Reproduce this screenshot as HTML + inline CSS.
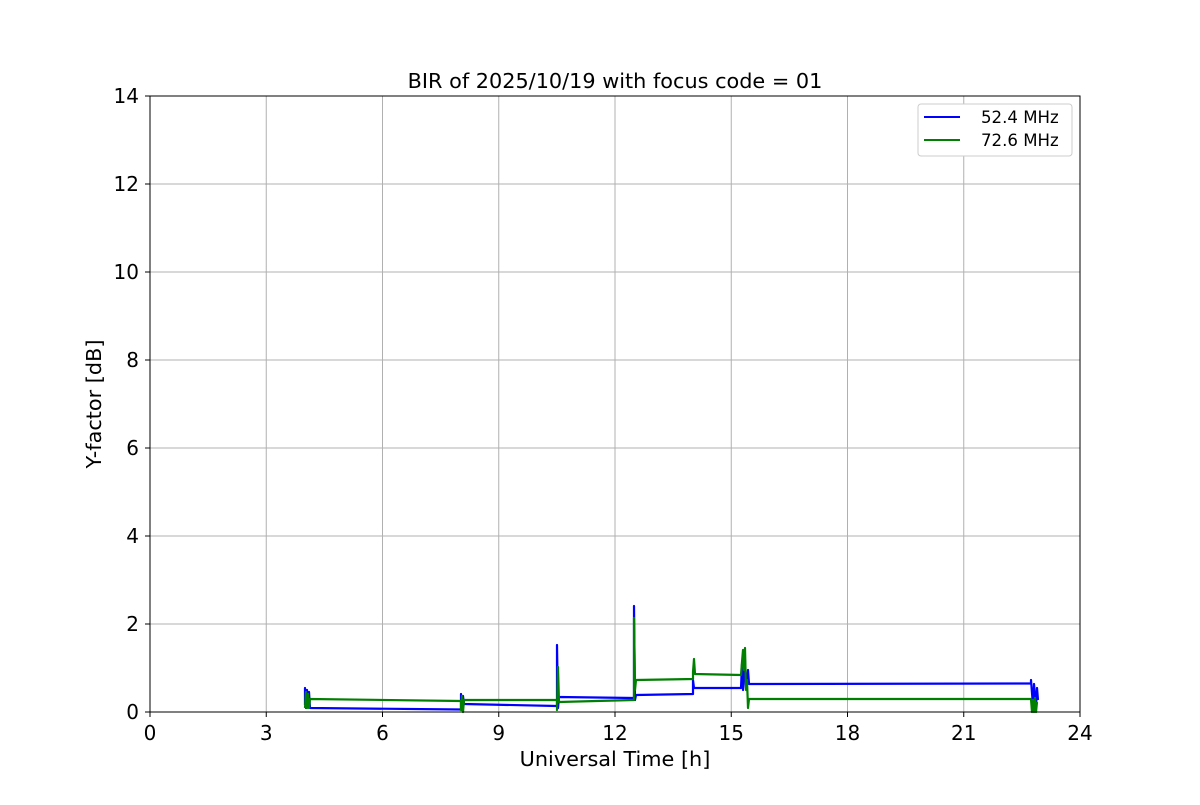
<!DOCTYPE html>
<html><head><meta charset="utf-8"><style>
body{margin:0;background:#fff;}
svg text{font-family:"DejaVu Sans","Liberation Sans",sans-serif;fill:#000;}
</style></head><body>
<svg width="1200" height="800" xmlns="http://www.w3.org/2000/svg">
<rect width="1200" height="800" fill="#fff"/>
<g stroke="#b0b0b0" stroke-width="1">
<line x1="266.25" y1="96" x2="266.25" y2="712"/><line x1="382.5" y1="96" x2="382.5" y2="712"/>
<line x1="498.75" y1="96" x2="498.75" y2="712"/><line x1="615" y1="96" x2="615" y2="712"/>
<line x1="731.25" y1="96" x2="731.25" y2="712"/><line x1="847.5" y1="96" x2="847.5" y2="712"/>
<line x1="963.75" y1="96" x2="963.75" y2="712"/>
<line x1="150" y1="624" x2="1080" y2="624"/><line x1="150" y1="536" x2="1080" y2="536"/>
<line x1="150" y1="448" x2="1080" y2="448"/><line x1="150" y1="360" x2="1080" y2="360"/>
<line x1="150" y1="272" x2="1080" y2="272"/><line x1="150" y1="184" x2="1080" y2="184"/>
</g>
<g fill="none" stroke-width="2.2" stroke-linejoin="round">
<path stroke="#0000ff" d="M305,705 L305,688 L306,708 L307,690 L308,706 L309,692 L310,708 L461,709.5 L461,694 L462,710 L463,696 L464,704 L557,706 L557,645 L558,708 L559,697 L634,698 L634,606 L635,700 L636,695 L693,694 L693,680 L694,688 L741,688 L742,664 L743,690 L745,660 L746,688 L748,670 L749,684 L1031,683.5 L1031,680 L1033,706 L1034,684 L1036,708 L1037,688 L1038,700"/>
<path stroke="#008000" d="M305,708 L306,692 L307,708 L308,694 L309,708 L310,699 L461,701 L461,710 L462,696 L463,712 L464,700 L557,700 L557,710 L558,667 L559,702 L634,700 L634,618 L635,690 L636,680 L693,679 L693,672 L694,659 L695,674 L741,675 L742,662 L743,650 L744,670 L745,648 L746,690 L747,680 L748,708 L749,699 L1031,699 L1032,712 L1033,700 L1034,712 L1035,698 L1036,712 L1037,702"/>
</g>
<rect x="150" y="96" width="930" height="616" fill="none" stroke="#000" stroke-width="1"/>
<g stroke="#000" stroke-width="1">
<line x1="150" y1="712" x2="150" y2="717"/><line x1="266.25" y1="712" x2="266.25" y2="717"/>
<line x1="382.5" y1="712" x2="382.5" y2="717"/><line x1="498.75" y1="712" x2="498.75" y2="717"/>
<line x1="615" y1="712" x2="615" y2="717"/><line x1="731.25" y1="712" x2="731.25" y2="717"/>
<line x1="847.5" y1="712" x2="847.5" y2="717"/><line x1="963.75" y1="712" x2="963.75" y2="717"/>
<line x1="1080" y1="712" x2="1080" y2="717"/>
<line x1="145" y1="712" x2="150" y2="712"/><line x1="145" y1="624" x2="150" y2="624"/>
<line x1="145" y1="536" x2="150" y2="536"/><line x1="145" y1="448" x2="150" y2="448"/>
<line x1="145" y1="360" x2="150" y2="360"/><line x1="145" y1="272" x2="150" y2="272"/>
<line x1="145" y1="184" x2="150" y2="184"/><line x1="145" y1="96" x2="150" y2="96"/>
</g>
<g font-size="20" text-anchor="middle">
<text x="150" y="740">0</text><text x="266.25" y="740">3</text><text x="382.5" y="740">6</text>
<text x="498.75" y="740">9</text><text x="615" y="740">12</text><text x="731.25" y="740">15</text>
<text x="847.5" y="740">18</text><text x="963.75" y="740">21</text><text x="1080" y="740">24</text>
</g>
<g font-size="20" text-anchor="end">
<text x="139" y="719">0</text><text x="139" y="631">2</text><text x="139" y="543">4</text>
<text x="139" y="455">6</text><text x="139" y="367">8</text><text x="139" y="279">10</text>
<text x="139" y="191">12</text><text x="139" y="103">14</text>
</g>
<text x="615" y="766" font-size="20.8" text-anchor="middle">Universal Time [h]</text>
<text transform="translate(101,404) rotate(-90)" font-size="20.8" text-anchor="middle">Y-factor [dB]</text>
<text x="615" y="88" font-size="20.8" text-anchor="middle">BIR of 2025/10/19 with focus code = 01</text>
<rect x="918" y="104" width="154" height="52" rx="3" fill="#fff" stroke="#ccc"/>
<line x1="924" y1="117" x2="960" y2="117" stroke="#0000ff" stroke-width="2"/>
<line x1="924" y1="140" x2="960" y2="140" stroke="#008000" stroke-width="2"/>
<text x="981" y="123" font-size="16.6">52.4 MHz</text>
<text x="981" y="146" font-size="16.6">72.6 MHz</text>
</svg>
</body></html>
